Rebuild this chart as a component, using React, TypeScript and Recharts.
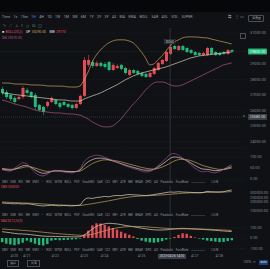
import React from "react";
import {
  ComposedChart,
  Bar,
  Line,
  XAxis,
  YAxis,
  CartesianGrid,
  ReferenceLine,
  ReferenceDot,
  Cell,
} from "recharts";

const RED = "#e34b55";
const GREEN = "#22b87a";
const BG = "#0f1115";
const AXIS = "#7f8792";
const GRID = "#1c1f26";
const FONT = "Roboto, 'Noto Sans', sans-serif";

// 4h candles, oldest first
const opens = [27390, 27190, 27000, 26810, 26740, 26870, 27320, 27190, 27000, 26360, 26230, 26290, 26550, 26680, 26480, 26550, 26420, 26360, 26160, 26420, 26940, 28940, 29130, 28870, 29070, 29000, 29130, 28610, 28740, 28940, 28740, 28290, 28610, 28550, 28420, 28360, 28160, 28360, 28610, 29000, 29190, 29650, 30160, 29900, 30160, 30030, 29900, 29770, 29710, 29580, 29580, 30030, 29770, 29710, 29770, 29650, 29900];
const closes = [27130, 26870, 26740, 26550, 26870, 27450, 27130, 26870, 26230, 26030, 25900, 26550, 26810, 26420, 26230, 26360, 26230, 26160, 26420, 26940, 29260, 29260, 28870, 29070, 28870, 28810, 28610, 28940, 28870, 28680, 28420, 28610, 28420, 28360, 28230, 28160, 28420, 28740, 29070, 29260, 29770, 30100, 29970, 30160, 29900, 29770, 29710, 29580, 29580, 29710, 30030, 29650, 29580, 29580, 29650, 29900, 29800];
const highs = [27520, 27320, 27080, 26940, 26960, 27580, 27470, 27260, 27130, 26420, 26300, 26620, 26900, 26750, 26560, 26620, 26500, 26430, 26510, 27010, 29450, 29580, 29260, 29200, 29150, 29130, 29200, 29060, 28990, 29010, 28810, 28700, 28680, 28620, 28490, 28430, 28490, 28810, 29130, 29330, 29850, 30360, 30230, 30230, 30230, 30100, 29970, 29840, 29770, 29780, 30100, 30100, 29840, 29770, 29840, 29970, 29950];
const lows = [27000, 26740, 26610, 26420, 26650, 26740, 27050, 26780, 26040, 25950, 25720, 26180, 26480, 26330, 26110, 26280, 26150, 26060, 26090, 26350, 26870, 28810, 28740, 28800, 28780, 28710, 28520, 28550, 28680, 28600, 28330, 28220, 28350, 28270, 28150, 28080, 28090, 28290, 28550, 28930, 29120, 29580, 29900, 29840, 29840, 29710, 29640, 29520, 29510, 29520, 29520, 29580, 29510, 29520, 29580, 29580, 29740];

const bollUp = [27775, 27770, 27760, 27710, 27705, 27700, 27690, 27650, 27645, 27640, 27630, 27585, 27580, 27575, 27570, 27565, 27520, 27515, 27510, 27580, 27970, 28480, 29130, 29580, 29900, 30160, 30360, 30480, 30550, 30560, 30550, 30480, 30360, 30100, 29770, 29390, 28940, 29000, 29260, 29520, 29840, 30160, 30420, 30550, 30680, 30740, 30750, 30740, 30730, 30690, 30680, 30610, 30550, 30480, 30420, 30360, 30290];
const bollMid = [27130, 27100, 27070, 27030, 27000, 26970, 26940, 26900, 26870, 26840, 26810, 26780, 26740, 26710, 26680, 26680, 26650, 26610, 26610, 26610, 26740, 26840, 26940, 27030, 27130, 27260, 27390, 27520, 27650, 27810, 27970, 28100, 28230, 28320, 28420, 28480, 28550, 28610, 28680, 28740, 28810, 28900, 29000, 29100, 29190, 29290, 29390, 29450, 29520, 29550, 29580, 29610, 29650, 29680, 29710, 29740, 29770];
const bollDn = [26680, 26610, 26520, 26420, 26360, 26290, 26230, 26130, 26030, 25970, 25940, 25900, 25870, 25840, 25840, 25810, 25780, 25780, 25740, 25710, 25580, 25450, 25260, 25130, 25000, 24940, 24940, 25000, 25200, 25450, 25780, 26100, 26420, 26680, 27000, 27320, 27580, 27780, 27840, 27840, 27780, 27650, 27580, 27580, 27650, 27780, 27900, 28030, 28160, 28290, 28420, 28550, 28680, 28810, 28940, 29000, 29070];

const kdjK = [45, 42, 40, 44, 52, 60, 62, 54, 42, 32, 26, 28, 34, 38, 37, 35, 33, 32, 34, 40, 62, 78, 88, 94, 95, 93, 88, 82, 76, 70, 64, 58, 53, 48, 43, 40, 40, 44, 54, 66, 80, 94, 100, 98, 92, 84, 74, 62, 52, 45, 44, 41, 38, 39, 43, 50, 56];
const kdjD = [48, 46, 44, 45, 48, 52, 56, 55, 50, 44, 38, 35, 35, 36, 37, 36, 35, 34, 34, 36, 46, 58, 70, 78, 84, 87, 87, 85, 82, 78, 73, 68, 63, 58, 53, 49, 46, 45, 48, 54, 62, 72, 82, 88, 90, 88, 84, 77, 69, 61, 56, 51, 47, 44, 44, 46, 50];
const kdjJ = [42, 38, 36, 48, 62, 74, 70, 50, 30, 18, 14, 22, 34, 40, 36, 32, 30, 28, 34, 46, 78, 96, 104, 108, 106, 100, 92, 84, 76, 68, 60, 54, 48, 42, 36, 32, 34, 44, 60, 76, 94, 112, 116, 108, 96, 82, 66, 50, 38, 32, 36, 30, 28, 34, 44, 56, 64];

const obv = [189000, 186000, 183000, 180000, 182000, 178000, 181000, 176000, 168000, 162000, 156000, 160000, 164000, 161000, 158000, 161000, 159000, 157000, 160000, 167000, 222000, 244000, 240000, 250000, 254000, 262000, 258000, 268000, 272000, 270000, 278000, 283000, 280000, 278000, 274000, 272000, 276000, 282000, 290000, 297000, 305000, 311000, 309000, 314000, 311000, 309000, 307000, 304000, 302000, 305000, 318000, 314000, 312000, 311000, 314000, 326000, 333000];
const obvMa = [200000, 198000, 196000, 194000, 192000, 190000, 188000, 186000, 184000, 181000, 178000, 175000, 172000, 170000, 168000, 166000, 164000, 163000, 162000, 162000, 167000, 174000, 181000, 189000, 197000, 205000, 213000, 222000, 231000, 240000, 248000, 255000, 260000, 264000, 267000, 269000, 271000, 273000, 276000, 279000, 282000, 286000, 290000, 294000, 297000, 300000, 302000, 303000, 304000, 305000, 307000, 308000, 309000, 310000, 311000, 313000, 316000];

const macdHist = [-40, -55, -62, -70, -60, -45, -25, -40, -55, -68, -72, -58, -25, -20, -22, -20, -18, -15, -12, -5, 30, 70, 120, 140, 138, 125, 110, 95, 80, 60, 45, 30, 15, -10, -25, -35, -42, -45, -40, -30, -15, -5, 10, 30, 45, 40, 20, 5, -5, -15, -25, -30, -35, -40, -38, -30, -22];
const macdDif = [60, 55, 50, 44, 40, 38, 36, 32, 27, 22, 18, 16, 16, 15, 14, 13, 12, 11, 10, 12, 28, 55, 85, 110, 125, 135, 140, 138, 134, 128, 120, 114, 108, 100, 94, 88, 82, 78, 76, 76, 78, 82, 86, 90, 92, 90, 88, 86, 84, 82, 79, 76, 73, 70, 67, 64, 61];
const macdDea = [85, 83, 80, 78, 76, 73, 70, 67, 63, 59, 55, 51, 47, 43, 40, 37, 34, 31, 28, 26, 25, 28, 35, 45, 57, 68, 79, 88, 96, 102, 106, 109, 110, 110, 109, 107, 104, 101, 98, 95, 92, 90, 88, 87, 87, 87, 87, 86, 85, 84, 83, 82, 80, 78, 76, 74, 72];

// 30000 sits under the last-price tag, so it is not listed
const priceTicks = [24000, 25000, 26000, 27000, 28000, 29000, 31000];
const kdjTicks = [0, 50, 100];
const obvTicks = [100000, 200000, 250000, 300000];
const macdTicks = [-100, 0, 100];
const dateTicks = [3, 6, 13, 20, 25, 34, 47, 53];
const dateLabels = ["4/20", "4/21", "4/22", "4/23", "4/24", "4/25", "4/27", "4/28"];

const intervals = ["Time", "1s", "15m", "1H", "4H", "1D", "1W", "1M", "3M", "6M", "1Y", "2Y", "3Y", "All", "MA", "EMA", "BOLL", "SAR", "AVL", "VOL", "SUPER"];
const activeInterval = "1H";
const drawTools = ["✎", "⟋", "⊥", "⌇", "◇", "⊡", "▢"];
const indicatorTabs = ["OBV", "DMI", "RSI", "WR", "EMV", "···", "ROC", "MTM", "BOLL", "PSY", "StochRSI", "SAR", "CCI", "MFI", "ATR", "BBI", "BRAR", "DPO", "AO", "Parabolic", "FundRate"];

const lastPrice = 29800;
const crossPrice = 25580;
const crossIndex = 41;
const crossTime = "2023-04-26 14:00";
const SLOTS = 60;

const rows = Array.from({ length: SLOTS }, (_, i) => ({
  t: i,
  range: i < opens.length ? [lows[i], highs[i]] : undefined,
  open: opens[i],
  close: closes[i],
  high: highs[i],
  low: lows[i],
  up: bollUp[i],
  mid: bollMid[i],
  dn: bollDn[i],
  k: kdjK[i],
  d: kdjD[i],
  j: kdjJ[i],
  obv: obv[i],
  obvMa: obvMa[i],
  hist: macdHist[i],
  dif: macdDif[i],
  dea: macdDea[i],
}));

const Candle = (props: any) => {
  const { x, width, payload } = props;
  let { y, height } = props;
  if (payload == null || payload.open == null) return null;
  if (height < 0) {
    y += height;
    height = -height;
  }
  const { open, close, high, low } = payload;
  const color = close >= open ? RED : GREEN;
  const span = high - low || 1;
  const py = (v: number) => y + ((high - v) / span) * height;
  const cx = x + width / 2;
  const top = py(Math.max(open, close));
  const bot = py(Math.min(open, close));
  return (
    <g>
      <line x1={cx} x2={cx} y1={y} y2={y + height} stroke={color} strokeWidth={0.6} />
      <rect x={x} y={top} width={width} height={Math.max(0.7, bot - top)} fill={color} />
    </g>
  );
};

const axisTag = (fill: string, text: string, color: string) => (p: any) => {
  const vb = p.viewBox || {};
  const x = vb.x + vb.width + 2;
  const y = vb.y;
  return (
    <g>
      <rect x={x} y={y - 3} width={19} height={6} rx={0.8} fill={fill} />
      <text x={x + 9.5} y={y + 1.4} fontSize={3.8} fill={color} textAnchor="middle" fontFamily={FONT}>
        {text}
      </text>
    </g>
  );
};

const highTag = (p: any) => {
  const vb = p.viewBox || {};
  const x = vb.x;
  const y = vb.y;
  return (
    <g>
      <rect x={x - 6} y={y - 3.2} width={11} height={4} fill="#1b1e24" stroke="#5c626c" strokeWidth={0.3} />
      <text x={x - 0.5} y={y - 0.2} fontSize={3} fill="#c9cdd3" textAnchor="middle" fontFamily={FONT}>
        {highs[crossIndex].toFixed(0)}
      </text>
    </g>
  );
};

const tickStyle = { fontSize: 3.8, fill: AXIS, fontFamily: FONT };
const yProps = {
  orientation: "right" as const,
  width: 24,
  axisLine: false,
  tickLine: false,
  tickSize: 0,
  tickMargin: 4,
  interval: 0 as const,
  tick: tickStyle,
  tickFormatter: (v: number) => v.toFixed(2),
};

const Txt = ({ x, y, c = AXIS, s = 4, children }: any) => (
  <div
    style={{
      position: "absolute",
      left: x,
      top: y,
      fontSize: s,
      lineHeight: 1,
      color: c,
      whiteSpace: "nowrap",
    }}
  >
    {children}
  </div>
);

const TabRow = ({ top }: { top: number }) => (
  <div
    style={{
      position: "absolute",
      left: 2,
      top,
      display: "flex",
      gap: 2.6,
      fontSize: 3,
      lineHeight: 1,
      color: "#8b929c",
      whiteSpace: "nowrap",
    }}
  >
    {indicatorTabs.map((t) => (
      <span key={t}>{t}</span>
    ))}
    <span style={{ display: "inline-block", width: 14, height: 1, marginTop: 1.2, background: "#2f333b" }} />
    <span style={{ marginLeft: 4 }}>LS/B</span>
  </div>
);

const pane = (top: number): React.CSSProperties => ({ position: "absolute", left: 0, top });

export default function App() {
  return (
    <div
      style={{
        position: "absolute",
        left: 0,
        top: 0,
        width: 270,
        height: 269,
        background: BG,
        overflow: "hidden",
        fontFamily: FONT,
      }}
    >
      {/* toolbar */}
      <div style={{ position: "absolute", left: 0, top: 0, width: 270, height: 12, background: "#060708" }} />
      <div style={{ position: "absolute", left: 2, top: 16, display: "flex", gap: 3.4, fontSize: 3.6, lineHeight: 1, whiteSpace: "nowrap" }}>
        {intervals.map((it) => (
          <span key={it} style={{ color: it === activeInterval ? "#3f7cf5" : "#9aa1ab" }}>
            {it}
          </span>
        ))}
      </div>
      <Txt x={228} y={16} s={3.6}>⇆</Txt>
      <Txt x={235} y={16} s={3.6}>⋮</Txt>
      <Txt x={240} y={16} s={3.6}>▭</Txt>
      <div style={{ position: "absolute", left: 248, top: 15, width: 14, height: 5, border: "0.5px solid #4a4f58", borderRadius: 1, fontSize: 3.2, color: "#b8bec7", lineHeight: "5px", textAlign: "center" }}>
        深度图
      </div>
      <div style={{ position: "absolute", left: 3, top: 23.5, display: "flex", gap: 3, fontSize: 4, lineHeight: 1, color: "#8b929c" }}>
        {drawTools.map((d) => (
          <span key={d}>{d}</span>
        ))}
      </div>

      {/* main pane */}
      <div style={pane(28)}>
        <ComposedChart width={270} height={120} data={rows} margin={{ top: 0, right: 0, bottom: 0, left: 0 }}>
          <CartesianGrid vertical={false} stroke={GRID} strokeWidth={0.4} />
          <XAxis dataKey="t" hide />
          <YAxis {...yProps} domain={[23580, 31320]} ticks={priceTicks} allowDataOverflow />
          <Line dataKey="up" stroke="#c7a458" strokeWidth={0.7} dot={false} type="monotone" isAnimationActive={false} />
          <Line dataKey="mid" stroke="#d8cfb6" strokeWidth={0.7} dot={false} type="monotone" isAnimationActive={false} />
          <Line dataKey="dn" stroke="#b0557e" strokeWidth={0.7} dot={false} type="monotone" isAnimationActive={false} />
          <Bar dataKey="range" shape={Candle} barSize={3} isAnimationActive={false} />
          <ReferenceLine x={crossIndex} stroke="#5d636c" strokeWidth={0.4} />
          <ReferenceLine y={crossPrice} stroke="#5d636c" strokeWidth={0.4} strokeDasharray="1 1" label={axisTag("#3a3f48", crossPrice.toFixed(2), "#d5d9df")} />
          <ReferenceLine y={lastPrice} stroke={GREEN} strokeOpacity={0.35} strokeWidth={0.4} strokeDasharray="1 1" label={axisTag(GREEN, lastPrice.toFixed(2), "#eafff4")} />
          <ReferenceDot x={crossIndex} y={highs[crossIndex]} r={0} label={highTag} />
        </ComposedChart>
      </div>
      <div style={{ position: "absolute", left: 240, top: 33, width: 4, height: 4, border: "0.4px solid #4a4f58", borderRadius: 0.6 }} />
      <div style={{ position: "absolute", left: 243, top: 115, fontSize: 3.5, lineHeight: 1, color: "#8b929c" }}>×</div>

      {/* main legend */}
      <div style={{ position: "absolute", left: 2, top: 31, display: "flex", gap: 1.5, fontSize: 3.4, lineHeight: 1, whiteSpace: "nowrap" }}>
        <span style={{ color: "#e8e8e8" }}>■</span>
        <span style={{ color: "#e0505a" }}>BOLL(20,2)</span>
        <span style={{ color: "#e8e8e8", marginLeft: 2 }}>UP</span>
        <span style={{ color: "#c7a458" }}>{bollUp[bollUp.length - 1].toFixed(2)}</span>
        <span style={{ color: "#e8e8e8", marginLeft: 2 }}>MB</span>
        <span style={{ color: "#e0505a" }}>{bollMid[bollMid.length - 1]}</span>
      </div>
      <Txt x={2} y={37} s={3.4} c="#b0557e">
        DN {bollDn[bollDn.length - 1].toFixed(2)}
      </Txt>

      {/* KDJ pane */}
      <div style={pane(148)}>
        <ComposedChart width={270} height={33} data={rows} margin={{ top: 0, right: 0, bottom: 0, left: 0 }}>
          <CartesianGrid vertical={false} stroke="#252932" strokeWidth={0.4} strokeDasharray="1 1" />
          <XAxis dataKey="t" hide />
          <YAxis {...yProps} domain={[-9, 141]} ticks={kdjTicks} allowDataOverflow />
          <Bar dataKey="none" isAnimationActive={false} />
          <Line dataKey="d" stroke="#c7a458" strokeWidth={0.7} dot={false} type="monotone" isAnimationActive={false} />
          <Line dataKey="k" stroke="#ddd6c2" strokeWidth={0.7} dot={false} type="monotone" isAnimationActive={false} />
          <Line dataKey="j" stroke="#a3479c" strokeWidth={0.7} dot={false} type="monotone" isAnimationActive={false} />
          <ReferenceLine x={crossIndex} stroke="#5d636c" strokeWidth={0.4} />
        </ComposedChart>
      </div>
      <TabRow top={180.5} />

      {/* OBV pane */}
      <div style={pane(186)}>
        <ComposedChart width={270} height={27} data={rows} margin={{ top: 0, right: 0, bottom: 0, left: 0 }}>
          <XAxis dataKey="t" hide />
          <YAxis {...yProps} domain={[77800, 377800]} ticks={obvTicks} allowDataOverflow />
          <Bar dataKey="none" isAnimationActive={false} />
          <Line dataKey="obvMa" stroke="#c7a458" strokeWidth={0.7} dot={false} type="monotone" isAnimationActive={false} />
          <Line dataKey="obv" stroke="#ddd6c2" strokeWidth={0.7} dot={false} type="monotone" isAnimationActive={false} />
          <ReferenceLine x={crossIndex} stroke="#5d636c" strokeWidth={0.4} />
        </ComposedChart>
      </div>
      <Txt x={1} y={185.5} s={3.2} c="#e0505a">
        OBV {obv[obv.length - 1]}
      </Txt>
      <TabRow top={213.5} />

      {/* MACD pane */}
      <div style={pane(219)}>
        <ComposedChart width={270} height={43} data={rows} margin={{ top: 0, right: 0, bottom: 0, left: 0 }}>
          <CartesianGrid vertical={false} stroke="#252932" strokeWidth={0.4} strokeDasharray="1 1" />
          <XAxis
            dataKey="t"
            height={13}
            axisLine={false}
            tickLine={false}
            tickSize={0}
            tickMargin={5}
            ticks={dateTicks}
            interval={0}
            tick={{ fontSize: 3.6, fill: AXIS, fontFamily: FONT }}
            tickFormatter={(v: number) => dateLabels[dateTicks.indexOf(v)] ?? ""}
          />
          <YAxis {...yProps} domain={[-105, 181]} ticks={macdTicks} allowDataOverflow />
          <Bar dataKey="hist" barSize={2.4} isAnimationActive={false}>
            {rows.map((r) => (
              <Cell key={r.t} fill={(r.hist ?? 0) >= 0 ? RED : GREEN} />
            ))}
          </Bar>
          <Line dataKey="dif" stroke="#ddd6c2" strokeWidth={0.7} dot={false} type="monotone" isAnimationActive={false} />
          <Line dataKey="dea" stroke="#c7a458" strokeWidth={0.7} dot={false} type="monotone" isAnimationActive={false} />
          <ReferenceLine x={crossIndex} stroke="#5d636c" strokeWidth={0.4} />
        </ComposedChart>
      </div>
      <Txt x={1} y={219.5} s={3.2} c="#e0505a">
        MACD(12,26,9)
      </Txt>
      <TabRow top={248.5} />

      {/* footer */}
      <div style={{ position: "absolute", left: 158, top: 253.5, width: 28, height: 5, background: "#3a3f48", fontSize: 3.2, lineHeight: "5px", color: "#d5d9df", textAlign: "center" }}>
        {crossTime}
      </div>
      <div style={{ position: "absolute", left: 7, top: 260, width: 10, height: 5, border: "0.4px solid #4a4f58", fontSize: 3.2, lineHeight: "5px", color: "#a7adb6", textAlign: "center" }}>
        指标
      </div>
      <div style={{ position: "absolute", left: 27, top: 260, width: 11, height: 5, border: "0.4px solid #4a4f58", fontSize: 3.2, lineHeight: "5px", color: "#a7adb6", textAlign: "center" }}>
        设置
      </div>
      <Txt x={243} y={261} s={3.4}>100%</Txt>
      <Txt x={253} y={261} s={3.4}>⟲</Txt>
      <div style={{ position: "absolute", left: 259, top: 260, width: 9, height: 5, background: "#1f3f7a", fontSize: 3.2, lineHeight: "5px", color: "#cfe0ff", textAlign: "center" }}>
        auto
      </div>
    </div>
  );
}
